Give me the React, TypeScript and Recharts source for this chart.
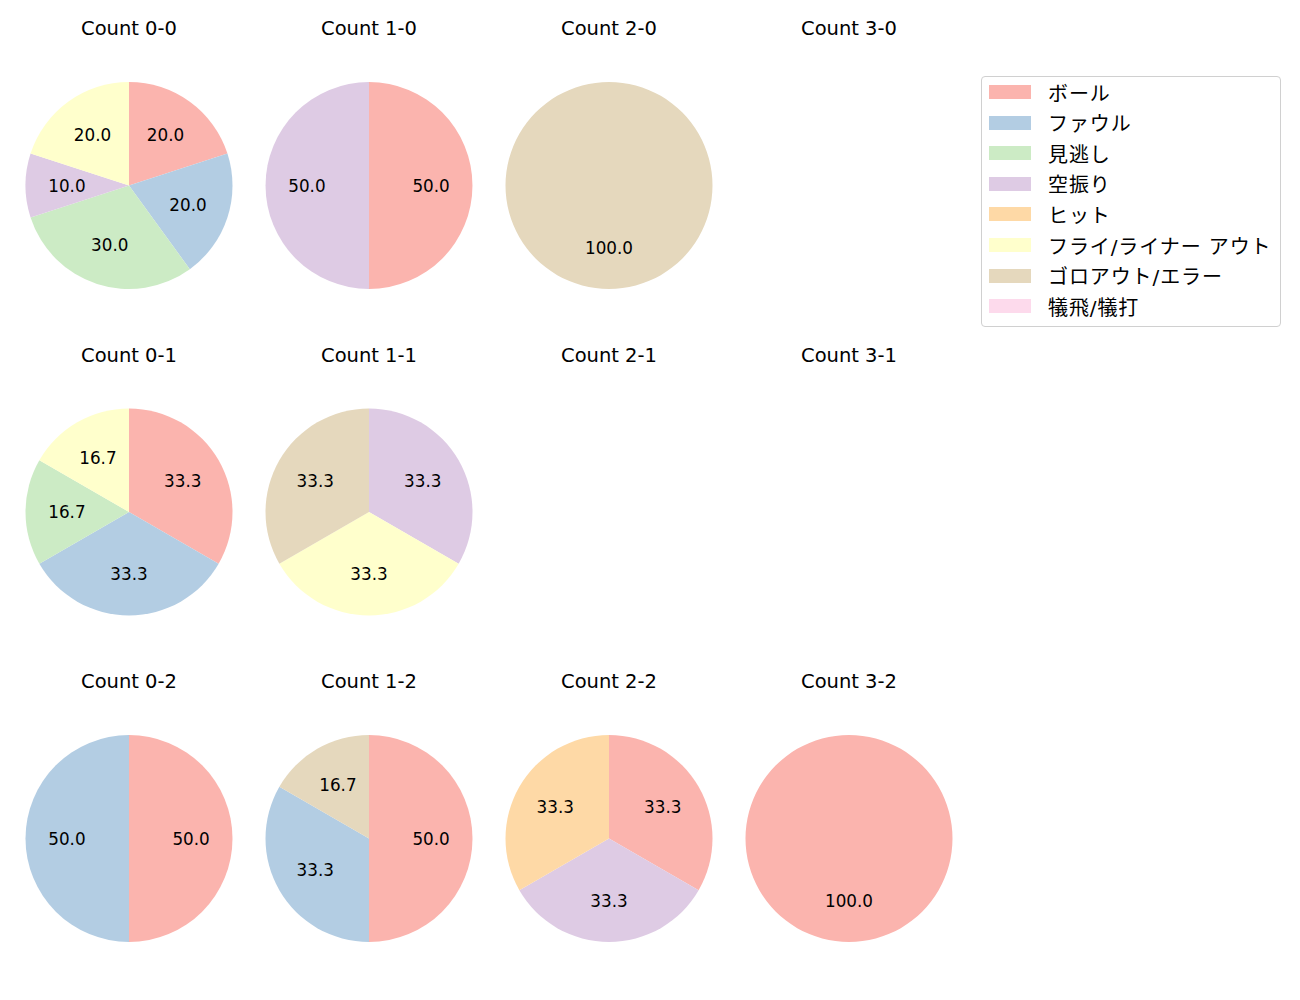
import { PieChart, Pie, Cell } from "recharts";

const categories = [
    "ボール",
    "ファウル",
    "見逃し",
    "空振り",
    "ヒット",
    "フライ/ライナー アウト",
    "ゴロアウト/エラー",
    "犠飛/犠打",
];

const colors = [
    "#fbb4ae",
    "#b3cde3",
    "#ccebc5",
    "#decbe4",
    "#fed9a6",
    "#ffffcc",
    "#e5d8bd",
    "#fddaec",
];

// counts per category, same order as categories
const count00 = [2, 2, 3, 1, 0, 2, 0, 0];
const count10 = [1, 0, 0, 1, 0, 0, 0, 0];
const count20 = [0, 0, 0, 0, 0, 0, 1, 0];
const count30: number[] = [];
const count01 = [2, 2, 1, 0, 0, 1, 0, 0];
const count11 = [0, 0, 0, 1, 0, 1, 1, 0];
const count21: number[] = [];
const count31: number[] = [];
const count02 = [1, 1, 0, 0, 0, 0, 0, 0];
const count12 = [3, 2, 0, 0, 0, 0, 1, 0];
const count22 = [1, 0, 0, 1, 1, 0, 0, 0];
const count32 = [1, 0, 0, 0, 0, 0, 0, 0];

const panels = [
    { title: "Count 0-0", values: count00 },
    { title: "Count 1-0", values: count10 },
    { title: "Count 2-0", values: count20 },
    { title: "Count 3-0", values: count30 },
    { title: "Count 0-1", values: count01 },
    { title: "Count 1-1", values: count11 },
    { title: "Count 2-1", values: count21 },
    { title: "Count 3-1", values: count31 },
    { title: "Count 0-2", values: count02 },
    { title: "Count 1-2", values: count12 },
    { title: "Count 2-2", values: count22 },
    { title: "Count 3-2", values: count32 },
];

const FONT = '"DejaVu Sans", "Noto Sans CJK JP", sans-serif';
const RAD = Math.PI / 180;

// eslint-disable-next-line @typescript-eslint/no-explicit-any
const renderLabel = (p: any) => {
    const r = p.outerRadius * 0.6;
    const x = p.cx + r * Math.cos(-p.midAngle * RAD);
    const y = p.cy + r * Math.sin(-p.midAngle * RAD);
    return (
        <text
            x={x}
            y={y}
            textAnchor="middle"
            dominantBaseline="central"
            fill="#000"
            fontSize={16.8}
            fontFamily={FONT}
        >
            {(p.percent * 100).toFixed(1)}
        </text>
    );
};

export default function App() {
    return (
        <div
            style={{
                position: "absolute",
                left: 0,
                top: 0,
                width: 1300,
                height: 1000,
                background: "#fff",
                fontFamily: FONT,
            }}
        >
            <PieChart
                width={1300}
                height={1000}
                margin={{ top: 0, right: 0, bottom: 0, left: 0 }}
            >
                {panels.map((panel, i) => {
                    const col = i % 4;
                    const row = Math.floor(i / 4);
                    const data = panel.values
                        .map((v, k) => ({ name: categories[k], value: v, color: colors[k] }))
                        .filter((d) => d.value > 0);
                    if (data.length === 0) return null;
                    return (
                        <Pie
                            key={panel.title}
                            data={data}
                            dataKey="value"
                            nameKey="name"
                            cx={129 + col * 240}
                            cy={185.5 + row * 326.5}
                            outerRadius={103.5}
                            startAngle={90}
                            endAngle={-270}
                            stroke="none"
                            label={renderLabel}
                            labelLine={false}
                            isAnimationActive={false}
                        >
                            {data.map((d) => (
                                <Cell key={d.name} fill={d.color} />
                            ))}
                        </Pie>
                    );
                })}
            </PieChart>

            {/* panel titles */}
            {panels.map((panel, i) => {
                const col = i % 4;
                const row = Math.floor(i / 4);
                return (
                    <div
                        key={panel.title}
                        style={{
                            position: "absolute",
                            left: 129 + col * 240 - 100,
                            width: 200,
                            top: 16 + row * 326.5,
                            textAlign: "center",
                            fontSize: 19.5,
                            lineHeight: "26px",
                            color: "#000",
                        }}
                    >
                        {panel.title}
                    </div>
                );
            })}

            {/* legend box */}
            <div
                style={{
                    position: "absolute",
                    left: 981,
                    top: 76,
                    width: 298,
                    height: 249,
                    border: "1px solid #d0d0d0",
                    borderRadius: 4,
                    boxSizing: "content-box",
                }}
            >
                {categories.map((c, k) => (
                    <div
                        key={c}
                        style={{
                            position: "absolute",
                            left: 0,
                            top: 2 + k * 30.6,
                            height: 26,
                            display: "flex",
                            alignItems: "center",
                        }}
                    >
                        <div
                            style={{
                                marginLeft: 7,
                                width: 42,
                                height: 14,
                                background: colors[k],
                            }}
                        />
                        <span
                            style={{
                                marginLeft: 17,
                                fontSize: 20,
                                letterSpacing: 0.9,
                                whiteSpace: "nowrap",
                                color: "#000",
                            }}
                        >
                            {c}
                        </span>
                    </div>
                ))}
            </div>
        </div>
    );
}
